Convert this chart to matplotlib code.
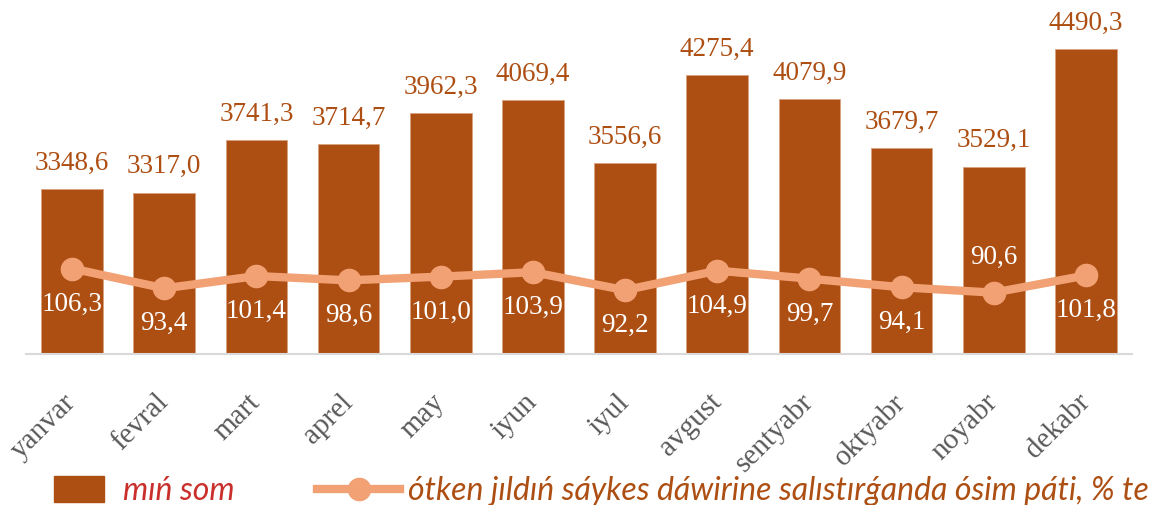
import matplotlib
matplotlib.use("Agg")
import matplotlib.pyplot as plt
from matplotlib.patches import Patch
from matplotlib.lines import Line2D

months = ["yanvar", "fevral", "mart", "aprel", "may", "iyun", "iyul",
          "avgust", "sentyabr", "oktyabr", "noyabr", "dekabr"]
volume = [3348.6, 3317.0, 3741.3, 3714.7, 3962.3, 4069.4, 3556.6,
          4275.4, 4079.9, 3679.7, 3529.1, 4490.3]
growth = [106.3, 93.4, 101.4, 98.6, 101.0, 103.9, 92.2,
          104.9, 99.7, 94.1, 90.6, 101.8]
label_above = [False, False, False, False, False, False, False,
               False, False, False, True, False]
bar_label = "mıń som"
line_label = "ótken jıldıń sáykes dáwirine salıstırǵanda ósim páti, % te"

def fmt(v):
    return f"{v:.1f}".replace(".", ",")

plt.rcParams["font.serif"] = ["Liberation Serif", "Times New Roman", "DejaVu Serif"]
SERIF = ["serif"]

BAR = "#AD4E12"
LINE = "#F1A173"

W, H = 1161, 505
fig = plt.figure(figsize=(W / 100, H / 100), dpi=100)
left, right, top, base = 26, 1132, 20, 354
ax = fig.add_axes([left / W, (H - base) / H, (right - left) / W, (base - top) / H])

x = list(range(len(months)))
ax.bar(x, volume, width=0.67, color=BAR, edgecolor="#D9A27F", linewidth=0.6,
       zorder=2)
ax.set_xlim(-0.5, len(months) - 0.5)
ax.set_ylim(2000, 4724)

for xi, v in zip(x, volume):
    ax.annotate(fmt(v), (xi, v), xytext=(0, 18.5), textcoords="offset points",
                ha="center", va="center", fontsize=19.5, family=SERIF,
                color=BAR)

for s in ["top", "right", "left"]:
    ax.spines[s].set_visible(False)
ax.spines["bottom"].set_color("#D9D9D9")
ax.spines["bottom"].set_linewidth(1.5)
ax.set_yticks([])
ax.set_xticks(x)
ax.set_xticklabels(months, rotation=45, ha="right", va="center",
                   rotation_mode="anchor", fontsize=21, family=SERIF,
                   color="#595959")
ax.tick_params(axis="x", length=0, pad=32)

ax2 = ax.twinx()
ax2.plot(x, growth, color=LINE, linewidth=6, marker="o", markersize=16,
         solid_capstyle="round", zorder=3)
ax2.set_ylim(50.7, 267.9)
ax2.axis("off")
for xi, g, up in zip(x, growth, label_above):
    ax2.annotate(fmt(g), (xi, g), xytext=(0, 25.5 if up else -25.5),
                 textcoords="offset points", ha="center", va="center",
                 fontsize=19.5, family=SERIF, color="white")

legprop = {"family": "Lato", "style": "italic", "size": 23}
h1 = Patch(facecolor=BAR, edgecolor=BAR)
h2 = Line2D([], [], color=LINE, linewidth=6, marker="o", markersize=16)
leg1 = fig.legend([h1], [bar_label], loc="center left",
                  bbox_to_anchor=(54 / W, (H - 491) / H), frameon=False,
                  prop=legprop, borderaxespad=0, borderpad=0,
                  handlelength=1.55, handleheight=0.9, handletextpad=0.6)
for t in leg1.get_texts():
    t.set_color("#C9302C")
leg2 = fig.legend([h2], [line_label], loc="center left",
                  bbox_to_anchor=(317 / W, (H - 491) / H), frameon=False,
                  prop=legprop, borderaxespad=0, borderpad=0,
                  handlelength=2.6, handletextpad=0.25)
for t in leg2.get_texts():
    t.set_color(BAR)

fig.savefig("out.png", dpi=100)
